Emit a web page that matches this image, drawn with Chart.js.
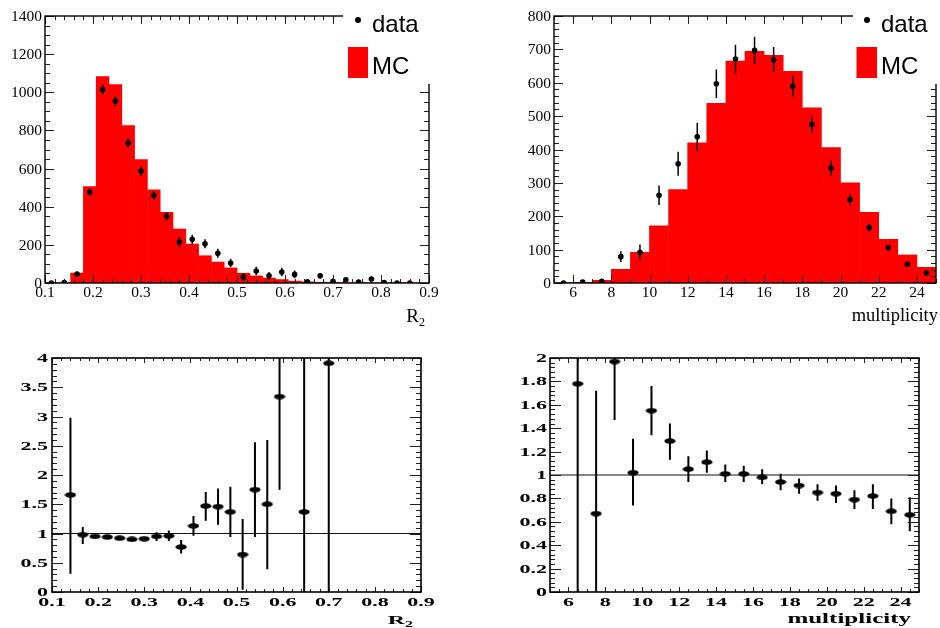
<!DOCTYPE html>
<html lang="en">
<head>
<meta charset="UTF-8" />
<title>R2 and multiplicity: data vs MC</title>
<script src="https://cdn.jsdelivr.net/npm/chart.js@4.4.0/dist/chart.umd.min.js"></script>
<style>
  body { margin: 0; background: #fff; }
  .wrap { position: relative; width: 940px; height: 628px; }
  canvas { position: absolute; }
</style>
</head>
<body>
<div class="wrap">
  <canvas id="r2Hist" width="470" height="328" style="left:0;top:0"></canvas>
  <canvas id="multHist" width="470" height="328" style="left:470px;top:0"></canvas>
  <canvas id="r2RatioCv" width="470" height="300" style="left:0;top:328px"></canvas>
  <canvas id="multRatioCv" width="470" height="300" style="left:470px;top:328px"></canvas>
</div>
<script>
// R2 histogram (30 bins, 0.1 - 0.9)
const r2Centers = [0.1133, 0.1400, 0.1667, 0.1933, 0.2200, 0.2467, 0.2733, 0.3000, 0.3267, 0.3533,
                   0.3800, 0.4067, 0.4333, 0.4600, 0.4867, 0.5133, 0.5400, 0.5667, 0.5933, 0.6200,
                   0.6467, 0.6733, 0.7000, 0.7267, 0.7533, 0.7800, 0.8067, 0.8333, 0.8600, 0.8867]
const r2Mc = [2, 1.5, 52, 505, 1082, 1040, 825, 647, 489, 370,
              283, 204, 143, 110, 79, 51, 37, 26, 18, 10,
              6, 4, 3, 2, 2, 1, 1, 1, 1, 0]
const r2Data = [0, 2, 47, 477, 1014, 954, 734, 587, 460, 350,
                215, 229, 206, 156, 105, 31, 63, 38, 58, 45,
                6, 38, 9, 17, 5, 21, 2, 0, 0, null]
const r2Err = [0, 3, 10, 18, 26, 26, 25, 24, 23, 22,
               24, 24, 24, 24, 22, 20, 22, 20, 22, 20,
               8, 15, 14, 10, 8, 12, 5, 0, 0, null]

// multiplicity histogram (20 bins, 5 - 25)
const multCenters = [5.5, 6.5, 7.5, 8.5, 9.5, 10.5, 11.5, 12.5, 13.5, 14.5,
                     15.5, 16.5, 17.5, 18.5, 19.5, 20.5, 21.5, 22.5, 23.5, 24.5]
const multMc = [1, 2, 8, 41, 92, 171, 280, 420, 538, 665,
                694, 682, 634, 525, 406, 300, 212, 131, 84, 47]
const multData = [0, 3, 5, 79, 92, 263, 357, 438, 597, 671,
                  697, 669, 589, 475, 344, 250, 166, 106, 56, 30]
const multErr = [2, 3, 4, 16, 23, 29, 36, 42, 43, 43,
                 41, 38, 32, 26, 22, 17, 11, 8, 6, 5]

// data / MC ratios
const r2RatioX = [0.1400, 0.1667, 0.1933, 0.2200, 0.2467, 0.2733, 0.3000, 0.3267, 0.3533, 0.3800,
                  0.4067, 0.4333, 0.4600, 0.4867, 0.5133, 0.5400, 0.5667, 0.5933, 0.6467, 0.7000]
const r2Ratio = [1.66, 0.98, 0.95, 0.94, 0.92, 0.90, 0.91, 0.95, 0.96, 0.77,
                 1.13, 1.47, 1.46, 1.37, 0.64, 1.75, 1.50, 3.34, 1.37, 3.91]
const r2RatioLo = [0.31, 0.82, 0.92, 0.92, 0.90, 0.88, 0.89, 0.87, 0.87, 0.66,
                   0.96, 1.22, 1.15, 0.94, 0.04, 0.94, 0.39, 1.75, 0, 0]
const r2RatioHi = [2.98, 1.11, 0.98, 0.96, 0.94, 0.92, 0.93, 1.02, 1.05, 0.89,
                   1.30, 1.71, 1.77, 1.80, 1.25, 2.56, 2.60, 4.6, 4.6, 4.6]

const multRatioX = [6.5, 7.5, 8.5, 9.5, 10.5, 11.5, 12.5, 13.5, 14.5, 15.5,
                    16.5, 17.5, 18.5, 19.5, 20.5, 21.5, 22.5, 23.5, 24.5]
const multRatio = [1.78, 0.67, 1.97, 1.02, 1.55, 1.29, 1.05, 1.11, 1.01, 1.01,
                   0.98, 0.94, 0.91, 0.85, 0.84, 0.79, 0.82, 0.69, 0.66]
const multRatioLo = [0, 0, 1.47, 0.74, 1.34, 1.13, 0.94, 1.02, 0.94, 0.94,
                     0.92, 0.87, 0.84, 0.78, 0.76, 0.71, 0.71, 0.58, 0.52]
const multRatioHi = [2.5, 1.72, 2.3, 1.31, 1.76, 1.44, 1.16, 1.21, 1.09, 1.08,
                     1.05, 1.01, 0.97, 0.92, 0.91, 0.87, 0.92, 0.80, 0.81]

// tick labels
const r2TickLabels = ['0.1', '0.2', '0.3', '0.4', '0.5', '0.6', '0.7', '0.8', '0.9']
const r2CountLabels = ['0', '200', '400', '600', '800', '1000', '1200', '1400']
const multTickLabels = ['6', '8', '10', '12', '14', '16', '18', '20', '22', '24']
const multCountLabels = ['0', '100', '200', '300', '400', '500', '600', '700', '800']
const r2RatioLabels = ['0', '0.5', '1', '1.5', '2', '2.5', '3', '3.5', '4']
const multRatioLabels = ['0', '0.2', '0.4', '0.6', '0.8', '1', '1.2', '1.4', '1.6', '1.8', '2']

const RED = '#ff0000'

function steps(from, to, step) {
  const out = []
  for (let v = from; v <= to + step / 2; v += step) out.push(Math.round(v * 1e6) / 1e6)
  return out
}

function text(ctx, s, x, y, font, align, sy) {
  ctx.save()
  ctx.translate(x, y)
  ctx.scale(1, sy)
  ctx.font = font
  ctx.textAlign = align
  ctx.textBaseline = 'alphabetic'
  ctx.fillText(s, 0, 0)
  ctx.restore()
}

// ROOT-like frame, inward ticks, labels, error bars and legend
function rootPlugin(o) {
  return {
    id: 'root',
    afterDatasetsDraw(chart) {
      const { ctx, chartArea: a, scales: { x, y } } = chart
      ctx.save()
      ctx.beginPath()
      ctx.rect(a.left, a.top, a.width, a.height)
      ctx.clip()
      ctx.strokeStyle = '#000'
      ctx.lineWidth = o.errWidth
      ctx.beginPath()
      o.err.xs.forEach((xv, i) => {
        if (o.err.lo[i] == null) return
        const px = x.getPixelForValue(xv)
        ctx.moveTo(px, y.getPixelForValue(o.err.lo[i]))
        ctx.lineTo(px, y.getPixelForValue(o.err.hi[i]))
      })
      ctx.stroke()
      ctx.restore()
    },
    afterDraw(chart) {
      const { ctx, chartArea: a, scales: { x, y } } = chart
      ctx.save()
      ctx.strokeStyle = '#222'
      ctx.lineWidth = 1
      ctx.beginPath()
      const xt = (list, len) => list.forEach(v => {
        const px = Math.round(x.getPixelForValue(v)) + 0.5
        ctx.moveTo(px, a.bottom); ctx.lineTo(px, a.bottom - len)
        ctx.moveTo(px, a.top); ctx.lineTo(px, a.top + len)
      })
      const yt = (list, len) => list.forEach(v => {
        const py = Math.round(y.getPixelForValue(v)) + 0.5
        ctx.moveTo(a.left, py); ctx.lineTo(a.left + len, py)
        ctx.moveTo(a.right, py); ctx.lineTo(a.right - len, py)
      })
      xt(o.xMinor, o.xLen[1]); xt(o.xMajor, o.xLen[0])
      yt(o.yMinor, o.yLen[1]); yt(o.yMajor, o.yLen[0])
      ctx.stroke()

      ctx.strokeStyle = '#000'
      ctx.lineWidth = o.frameWidth
      ctx.strokeRect(a.left, a.top, a.width, a.height)

      ctx.fillStyle = '#000'
      o.xLabels.forEach(s => text(ctx, s, x.getPixelForValue(Number(s)), a.bottom + o.xLabelDy, o.font, 'center', o.sy))
      o.yLabels.forEach(s => text(ctx, s, a.left - o.yLabelDx, y.getPixelForValue(Number(s)) + o.yLabelDy, o.font, 'right', o.sy))

      const t = o.title
      let right = t.right
      if (t.sub) {
        text(ctx, t.sub, right, t.subBase, t.subFont, 'right', o.sy)
        ctx.font = t.subFont
        right -= ctx.measureText(t.sub).width
      }
      text(ctx, t.main, right, t.base, t.font, 'right', o.sy)

      if (o.legend) {
        const L = o.legend
        ctx.fillStyle = '#fff'
        ctx.fillRect(L.cover[0], L.cover[1], L.cover[2], L.cover[3])
        ctx.fillStyle = '#000'
        ctx.beginPath()
        ctx.arc(L.dot[0], L.dot[1], 3, 0, Math.PI * 2)
        ctx.fill()
        text(ctx, 'data', L.textX, 32, '24px "Liberation Sans"', 'left', 1)
        ctx.fillStyle = RED
        ctx.fillRect(L.box[0], L.box[1], L.box[2], L.box[3])
        ctx.fillStyle = '#000'
        text(ctx, 'MC', L.textX, 74, '24px "Liberation Sans"', 'left', 1)
      }
      ctx.restore()
    }
  }
}

function panel(id, type, datasets, o) {
  const ctx = document.getElementById(id).getContext('2d')
  return new Chart(ctx, {
    type: type,
    data: { datasets: datasets },
    options: {
      responsive: false,
      animation: false,
      events: [],
      layout: { padding: { left: 0, right: o.box.right, top: o.box.top, bottom: 0 } },
      plugins: { legend: { display: false }, tooltip: { enabled: false } },
      scales: {
        x: {
          type: 'linear', min: o.xMin, max: o.xMax, offset: false,
          grid: { display: false }, border: { display: false }, ticks: { display: false },
          afterBuildTicks: s => { s.ticks = o.xMajor.map(v => ({ value: v })) },
          afterFit: s => { s.height = o.box.bottom }
        },
        y: {
          type: 'linear', min: o.yMin, max: o.yMax,
          grid: { display: false }, border: { display: false }, ticks: { display: false },
          afterBuildTicks: s => { s.ticks = o.yMajor.map(v => ({ value: v })) },
          afterFit: s => { s.width = o.box.left }
        }
      }
    },
    plugins: [rootPlugin(o)]
  })
}

function histSets(centers, mc, data) {
  return [
    {
      type: 'scatter',
      data: centers.map((c, i) => ({ x: c, y: data[i] })).filter(p => p.y != null),
      pointRadius: 2.8, pointBackgroundColor: '#000', pointBorderWidth: 0, order: 1
    },
    {
      type: 'bar',
      data: centers.map((c, i) => ({ x: c, y: mc[i] })),
      backgroundColor: RED, borderWidth: 0, barPercentage: 1, categoryPercentage: 1, order: 2
    }
  ]
}

const ellipse = document.createElement('canvas')
ellipse.width = 12
ellipse.height = 6
const ec = ellipse.getContext('2d')
ec.fillStyle = '#000'
ec.beginPath()
ec.ellipse(6, 3, 5.6, 2.8, 0, 0, Math.PI * 2)
ec.fill()

function ratioSets(xs, ratio, xMin, xMax) {
  return [
    {
      type: 'scatter',
      data: xs.map((v, i) => ({ x: v, y: ratio[i] })),
      pointStyle: ellipse, pointRadius: 6, order: 1
    },
    {
      type: 'line',
      data: [{ x: xMin, y: 1 }, { x: xMax, y: 1 }],
      borderColor: '#111', borderWidth: 1, pointRadius: 0, order: 2
    }
  ]
}

const topFont = '15.5px "Liberation Serif"'
const lowFont = 'bold 22px "Liberation Serif"'
const r2Major = r2TickLabels.map(Number)
const multMajor = multTickLabels.map(Number)

panel('r2Hist', 'bar', histSets(r2Centers, r2Mc, r2Data), {
  box: { left: 45, right: 41, top: 16, bottom: 45 },
  xMin: 0.1, xMax: 0.9, yMin: 0, yMax: 1400,
  xMajor: r2Major, xMinor: steps(0.1, 0.9, 0.02),
  yMajor: r2CountLabels.map(Number), yMinor: steps(0, 1400, 50),
  xLen: [8, 4], yLen: [9, 5], frameWidth: 1.4, errWidth: 1.5,
  xLabels: r2TickLabels, yLabels: r2CountLabels,
  font: topFont, sy: 1, xLabelDy: 14, yLabelDx: 3, yLabelDy: 5,
  err: { xs: r2Centers, lo: r2Data.map((v, i) => v == null ? null : v - r2Err[i]), hi: r2Data.map((v, i) => v == null ? null : v + r2Err[i]) },
  title: { main: 'R', sub: '2', right: 425, base: 322, subBase: 326, font: '19px "Liberation Serif"', subFont: '12px "Liberation Serif"' },
  legend: { cover: [343, 0, 127, 84], dot: [358, 20], textX: 372, box: [348, 47, 20, 31] }
})

panel('multHist', 'bar', histSets(multCenters, multMc, multData), {
  box: { left: 84, right: 2, top: 16, bottom: 45 },
  xMin: 5, xMax: 25, yMin: 0, yMax: 800,
  xMajor: multMajor, xMinor: steps(5, 25, 1),
  yMajor: multCountLabels.map(Number), yMinor: steps(0, 800, 20),
  xLen: [8, 4], yLen: [9, 5], frameWidth: 1.4, errWidth: 1.5,
  xLabels: multTickLabels, yLabels: multCountLabels,
  font: topFont, sy: 1, xLabelDy: 14, yLabelDx: 3, yLabelDy: 5,
  err: { xs: multCenters, lo: multData.map((v, i) => v - multErr[i]), hi: multData.map((v, i) => v + multErr[i]) },
  title: { main: 'multiplicity', right: 468, base: 321, font: '18.5px "Liberation Serif"' },
  legend: { cover: [383, 0, 87, 84], dot: [397, 20], textX: 411, box: [386.5, 47, 20.5, 31] }
})

panel('r2RatioCv', 'scatter', ratioSets(r2RatioX, r2Ratio, 0.1, 0.9), {
  box: { left: 52, right: 49, top: 30, bottom: 36 },
  xMin: 0.1, xMax: 0.9, yMin: 0, yMax: 4,
  xMajor: r2Major, xMinor: steps(0.1, 0.9, 0.02),
  yMajor: r2RatioLabels.map(Number), yMinor: steps(0, 4, 0.1),
  xLen: [5, 3], yLen: [11, 5], frameWidth: 1.6, errWidth: 2,
  xLabels: r2TickLabels, yLabels: r2RatioLabels,
  font: lowFont, sy: 0.55, xLabelDy: 14, yLabelDx: 4, yLabelDy: 4,
  err: { xs: r2RatioX, lo: r2RatioLo, hi: r2RatioHi },
  title: { main: 'R', sub: '2', right: 413, base: 296, subBase: 299, font: 'bold 24px "Liberation Serif"', subFont: 'bold 16px "Liberation Serif"' }
})

panel('multRatioCv', 'scatter', ratioSets(multRatioX, multRatio, 5, 25), {
  box: { left: 80, right: 21, top: 30, bottom: 36 },
  xMin: 5, xMax: 25, yMin: 0, yMax: 2,
  xMajor: multMajor, xMinor: steps(5, 25, 0.5),
  yMajor: multRatioLabels.map(Number), yMinor: steps(0, 2, 0.04),
  xLen: [5, 3], yLen: [11, 5], frameWidth: 1.6, errWidth: 2,
  xLabels: multTickLabels, yLabels: multRatioLabels,
  font: lowFont, sy: 0.55, xLabelDy: 14, yLabelDx: 3, yLabelDy: 4,
  err: { xs: multRatioX, lo: multRatioLo, hi: multRatioHi },
  title: { main: 'multiplicity', right: 441, base: 294.5, font: 'bold 25px "Liberation Serif"' }
})
</script>
</body>
</html>
